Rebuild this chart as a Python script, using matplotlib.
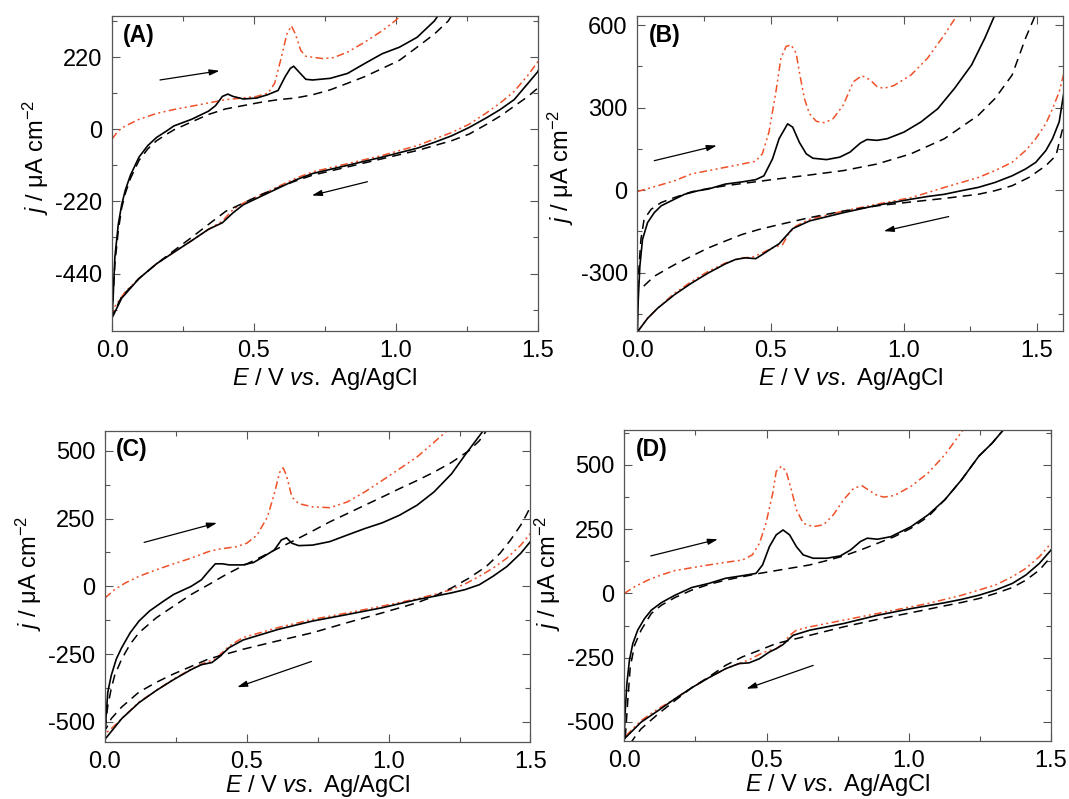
import matplotlib
matplotlib.use("Agg")
import matplotlib.pyplot as plt
from matplotlib.ticker import MultipleLocator

plt.rcParams["font.family"] = ["Liberation Sans", "DejaVu Sans"]
plt.rcParams["mathtext.fontset"] = "custom"
plt.rcParams["mathtext.rm"] = "Liberation Sans"
plt.rcParams["mathtext.it"] = "Liberation Sans:italic"
plt.rcParams["axes.unicode_minus"] = False

RED = "#EF5129"
SPINE = "#555555"

# ---------------- Panel A ----------------
a_solid_fwd_E = [0, 0.004, 0.01, 0.022, 0.034, 0.047, 0.065, 0.095, 0.126, 0.157, 0.193, 0.218, 0.28, 0.34, 0.365,
                 0.389, 0.408, 0.426, 0.463, 0.51, 0.548, 0.585, 0.61, 0.628, 0.64, 0.658, 0.683, 0.707, 0.769, 0.83,
                 0.89, 0.952, 1.013, 1.075, 1.136, 1.2, 1.3]
a_solid_fwd_j = [-575, -510, -390, -290, -230, -185, -140, -85, -50, -25, -5, 10, 30, 55, 72,
                 100, 107, 100, 92, 95, 105, 118, 160, 185, 192, 175, 152, 150, 155, 170,
                 200, 230, 250, 280, 330, 410, 560]
a_solid_rev_E = [1.53, 1.5, 1.466, 1.417, 1.368, 1.32, 1.258, 1.197, 1.136, 1.075, 0.952, 0.83, 0.707, 0.646, 0.585,
                 0.524, 0.463, 0.426, 0.389, 0.34, 0.28, 0.218, 0.157, 0.095, 0.034, 0]
a_solid_rev_j = [230, 175, 140, 90, 60, 35, 5, -20, -40, -58, -85, -110, -135, -155, -180,
                 -205, -230, -255, -285, -305, -340, -375, -410, -455, -515, -575]
a_dash_fwd_E = [0, 0.01, 0.022, 0.034, 0.047, 0.065, 0.095, 0.126, 0.157, 0.193, 0.218, 0.28, 0.34, 0.401, 0.463,
                0.524, 0.585, 0.646, 0.707, 0.769, 0.83, 0.89, 0.952, 1.013, 1.075, 1.136, 1.185, 1.25, 1.35]
a_dash_fwd_j = [-570, -410, -310, -240, -195, -150, -95, -60, -35, -15, -2, 22, 45, 62, 72,
                82, 90, 95, 105, 120, 140, 160, 185, 210, 250, 290, 330, 420, 600]
a_dash_rev_E = [1.53, 1.5, 1.466, 1.417, 1.368, 1.32, 1.258, 1.197, 1.136, 1.075, 0.952, 0.83, 0.707, 0.646, 0.585,
                0.524, 0.463, 0.401, 0.34, 0.28, 0.218, 0.157, 0.095, 0.034, 0]
a_dash_rev_j = [160, 125, 100, 70, 40, 15, -15, -35, -50, -65, -90, -115, -140, -158, -178,
                -200, -225, -250, -290, -330, -370, -410, -455, -510, -570]
a_red_fwd_E = [0, 0.022, 0.047, 0.095, 0.157, 0.218, 0.28, 0.34, 0.40, 0.46, 0.51, 0.55, 0.573, 0.597, 0.616,
               0.632, 0.646, 0.665, 0.683, 0.744, 0.78, 0.83, 0.89, 0.952, 1.0, 1.1]
a_red_fwd_j = [-30, -5, 10, 30, 48, 60, 70, 80, 90, 95, 100, 110, 140, 220, 290,
               315, 290, 240, 222, 215, 218, 235, 265, 300, 332, 420]
a_red_rev_E = [1.53, 1.5, 1.466, 1.417, 1.368, 1.32, 1.258, 1.197, 1.136, 1.075, 1.013, 0.952, 0.83, 0.707, 0.646,
               0.585, 0.524, 0.463, 0.426, 0.389, 0.34, 0.28, 0.218, 0.157, 0.095, 0.047, 0.01, 0]
a_red_rev_j = [250, 205, 165, 115, 80, 50, 15, -10, -30, -50, -65, -80, -105, -130, -150,
               -175, -200, -225, -245, -280, -305, -340, -375, -410, -455, -495, -540, -565]

# ---------------- Panel B ----------------
b_solid_fwd_E = [0, 0.003, 0.009, 0.019, 0.038, 0.063, 0.089, 0.139, 0.177, 0.228, 0.266, 0.33, 0.393, 0.444, 0.475,
                 0.507, 0.532, 0.564, 0.583, 0.608, 0.634, 0.659, 0.71, 0.76, 0.798, 0.837, 0.862, 0.9, 0.938, 1.001,
                 1.065, 1.128, 1.191, 1.255, 1.305, 1.343, 1.4, 1.5]
b_solid_fwd_j = [-515, -399, -277, -179, -118, -82, -57, -33, -15, -2, 4, 22, 30, 38, 52,
                 113, 187, 241, 229, 174, 132, 116, 111, 120, 138, 171, 184, 181, 187, 211,
                 248, 296, 370, 455, 553, 638, 780, 1050]
b_solid_rev_E = [1.62, 1.6, 1.584, 1.559, 1.534, 1.496, 1.458, 1.407, 1.343, 1.28, 1.217, 1.153, 1.09, 1.027, 0.9,
                 0.773, 0.646, 0.583, 0.558, 0.532, 0.507, 0.469, 0.444, 0.406, 0.368, 0.33, 0.266, 0.203, 0.139,
                 0.076, 0.038, 0]
b_solid_rev_j = [450, 345, 248, 187, 144, 101, 77, 52, 28, 10, -2, -15, -23, -33, -55,
                 -82, -112, -140, -167, -195, -210, -234, -249, -246, -252, -268, -301, -338, -380,
                 -429, -466, -515]
b_dash_fwd_E = [0, 0.006, 0.013, 0.025, 0.051, 0.089, 0.139, 0.203, 0.266, 0.33, 0.393, 0.52, 0.646, 0.773, 0.9,
                1.027, 1.153, 1.28, 1.343, 1.407, 1.458, 1.49, 1.6]
b_dash_fwd_j = [-362, -277, -179, -106, -70, -45, -27, -6, 6, 16, 24, 40, 55, 71, 95,
                132, 187, 272, 333, 418, 553, 626, 950]
b_dash_rev_E = [1.62, 1.6, 1.572, 1.534, 1.47, 1.407, 1.343, 1.28, 1.153, 1.027, 0.9, 0.773, 0.646, 0.52, 0.456,
                0.393, 0.33, 0.266, 0.203, 0.139, 0.063, 0.009]
b_dash_rev_j = [330, 235, 126, 89, 46, 16, -2, -15, -30, -43, -57, -76, -100, -128, -143,
                -161, -185, -210, -240, -271, -313, -362]
b_red_fwd_E = [0, 0.076, 0.139, 0.203, 0.266, 0.33, 0.393, 0.444, 0.469, 0.494, 0.52, 0.539, 0.558, 0.577, 0.596,
               0.608, 0.627, 0.646, 0.672, 0.703, 0.735, 0.773, 0.811, 0.843, 0.875, 0.9, 0.925, 0.963, 1.027, 1.09,
               1.153, 1.198, 1.3]
b_red_fwd_j = [-5, 16, 34, 59, 71, 83, 95, 105, 132, 211, 357, 480, 522, 528, 498,
               430, 333, 278, 250, 245, 260, 309, 394, 416, 400, 376, 370, 380, 418, 480,
               565, 632, 800]
b_red_rev_E = [1.62, 1.6, 1.584, 1.559, 1.534, 1.496, 1.458, 1.407, 1.343, 1.28, 1.217, 1.153, 1.09, 1.027, 0.9,
               0.773, 0.646, 0.596, 0.57, 0.545, 0.507, 0.469, 0.431, 0.393, 0.33, 0.266, 0.203, 0.139, 0.076,
               0.038, 0]
b_red_rev_j = [500, 418, 357, 296, 242, 187, 144, 101, 71, 46, 28, 10, -9, -27, -51,
               -76, -106, -130, -155, -198, -210, -228, -244, -246, -265, -295, -332, -375, -429,
               -466, -515]

# ---------------- Panel C ----------------
c_solid_fwd_E = [0, 0.004, 0.01, 0.022, 0.04, 0.059, 0.089, 0.12, 0.157, 0.206, 0.242, 0.304, 0.34, 0.365, 0.389,
                 0.414, 0.438, 0.487, 0.524, 0.56, 0.597, 0.622, 0.64, 0.659, 0.683, 0.732, 0.793, 0.854, 0.916,
                 0.977, 1.038, 1.1, 1.16, 1.222, 1.27, 1.338, 1.4, 1.5]
c_solid_fwd_j = [-564, -476, -390, -329, -268, -226, -171, -128, -91, -55, -30, 0, 24, 55, 83,
                 83, 79, 79, 88, 110, 134, 171, 179, 159, 150, 152, 165, 189, 213,
                 234, 262, 299, 348, 415, 485, 580, 700, 950]
c_solid_rev_E = [1.52, 1.5, 1.466, 1.417, 1.368, 1.32, 1.27, 1.222, 1.16, 1.1, 0.977, 0.854, 0.732, 0.61, 0.487,
                 0.438, 0.401, 0.377, 0.34, 0.304, 0.242, 0.181, 0.12, 0.059, 0]
c_solid_rev_j = [200, 165, 122, 73, 37, 6, -12, -24, -37, -49, -79, -104, -128, -159, -198,
                 -226, -262, -281, -289, -307, -344, -384, -429, -488, -564]
c_dash_fwd_E = [0, 0.01, 0.022, 0.034, 0.059, 0.089, 0.12, 0.181, 0.242, 0.304, 0.365, 0.426, 0.487, 0.548, 0.61,
                0.671, 0.732, 0.793, 0.854, 0.916, 0.977, 1.038, 1.1, 1.16, 1.222, 1.283, 1.32, 1.343, 1.5]
c_dash_fwd_j = [-525, -440, -378, -329, -268, -213, -171, -116, -73, -30, 6, 43, 76, 107, 140,
                171, 204, 238, 268, 299, 329, 360, 390, 421, 457, 500, 537, 571, 900]
c_dash_rev_E = [1.52, 1.5, 1.485, 1.466, 1.43, 1.393, 1.344, 1.283, 1.222, 1.16, 1.099, 0.977, 0.854, 0.732, 0.61,
                0.487, 0.365, 0.242, 0.181, 0.12, 0.059, 0.022, 0.004]
c_dash_rev_j = [330, 293, 262, 226, 171, 122, 73, 30, -6, -37, -61, -98, -134, -171, -201,
                -232, -268, -323, -354, -390, -445, -488, -525]
c_red_fwd_E = [0, 0.034, 0.071, 0.12, 0.181, 0.242, 0.304, 0.365, 0.4, 0.463, 0.5, 0.536, 0.573, 0.597, 0.616,
               0.628, 0.64, 0.659, 0.683, 0.732, 0.793, 0.854, 0.916, 0.977, 1.038, 1.099, 1.16, 1.203, 1.3]
c_red_fwd_j = [-43, -12, 12, 37, 61, 83, 104, 128, 137, 146, 159, 189, 256, 342, 421,
               437, 409, 329, 305, 293, 290, 311, 348, 390, 433, 476, 531, 571, 700]
c_red_rev_E = [1.52, 1.5, 1.466, 1.417, 1.368, 1.32, 1.27, 1.222, 1.16, 1.1, 0.977, 0.854, 0.732, 0.61, 0.487,
               0.438, 0.389, 0.34, 0.304, 0.242, 0.181, 0.12, 0.059, 0.016, 0]
c_red_rev_j = [230, 195, 152, 104, 67, 37, 9, -12, -30, -46, -73, -98, -122, -152, -189,
               -220, -268, -287, -305, -342, -384, -427, -488, -531, -543]

# ---------------- Panel D ----------------
d_solid_fwd_E = [0, 0.002, 0.009, 0.018, 0.03, 0.047, 0.071, 0.095, 0.13, 0.178, 0.237, 0.297, 0.356, 0.415, 0.463,
                 0.486, 0.51, 0.534, 0.558, 0.581, 0.605, 0.629, 0.664, 0.712, 0.759, 0.795, 0.83, 0.854, 0.89,
                 0.937, 1.008, 1.068, 1.127, 1.186, 1.246, 1.293, 1.335, 1.4, 1.5]
d_solid_fwd_j = [-566, -480, -352, -260, -195, -143, -98, -65, -36, -7, 23, 39, 59, 69, 78,
                 111, 182, 228, 247, 228, 182, 150, 137, 137, 146, 169, 202, 215, 211,
                 221, 260, 306, 365, 443, 534, 585, 640, 760, 1000]
d_solid_rev_E = [1.52, 1.5, 1.459, 1.412, 1.364, 1.305, 1.246, 1.186, 1.127, 1.008, 0.89, 0.771, 0.652, 0.593, 0.558,
                 0.534, 0.51, 0.475, 0.439, 0.403, 0.356, 0.297, 0.237, 0.178, 0.119, 0.059, 0]
d_solid_rev_j = [200, 169, 117, 72, 39, 13, -7, -23, -36, -59, -85, -117, -143, -163, -199,
                 -215, -228, -254, -270, -273, -293, -328, -367, -410, -456, -501, -566]
d_dash_fwd_E = [0, 0.012, 0.021, 0.036, 0.059, 0.095, 0.13, 0.178, 0.237, 0.297, 0.356, 0.415, 0.475, 0.534, 0.593,
                0.652, 0.712, 0.771, 0.83, 0.89, 0.949, 1.008, 1.068, 1.127, 1.186, 1.246, 1.293, 1.335, 1.4, 1.5]
d_dash_fwd_j = [-620, -420, -286, -202, -143, -78, -46, -16, 13, 35, 52, 65, 78, 89, 100,
                111, 128, 146, 169, 195, 221, 254, 299, 365, 443, 534, 585, 640, 760, 1000]
d_dash_rev_E = [1.52, 1.5, 1.459, 1.412, 1.364, 1.305, 1.246, 1.186, 1.127, 1.008, 0.89, 0.771, 0.652, 0.534, 0.475,
                0.415, 0.356, 0.297, 0.237, 0.178, 0.119, 0.059, 0.036, 0]
d_dash_rev_j = [175, 143, 91, 52, 23, 0, -20, -35, -48, -75, -101, -130, -163, -195, -221,
                -247, -280, -325, -367, -417, -469, -527, -560, -620]
d_red_fwd_E = [0, 0.036, 0.083, 0.13, 0.178, 0.237, 0.297, 0.356, 0.415, 0.45, 0.475, 0.498, 0.522, 0.534, 0.552,
               0.569, 0.587, 0.605, 0.629, 0.664, 0.7, 0.735, 0.771, 0.807, 0.836, 0.866, 0.89, 0.913, 0.949, 1.008,
               1.068, 1.127, 1.192, 1.3]
d_red_fwd_j = [0, 26, 52, 72, 89, 100, 111, 121, 130, 150, 195, 273, 391, 475, 495,
               475, 404, 326, 273, 260, 267, 306, 365, 410, 419, 397, 381, 375, 381, 417,
               469, 540, 638, 800]
d_red_rev_E = [1.52, 1.495, 1.459, 1.412, 1.364, 1.305, 1.246, 1.186, 1.127, 1.068, 1.008, 0.89, 0.771, 0.652, 0.605,
               0.581, 0.558, 0.534, 0.51, 0.475, 0.439, 0.403, 0.356, 0.297, 0.237, 0.178, 0.119, 0.059, 0.012, 0]
d_red_rev_j = [215, 189, 143, 98, 65, 33, 13, -7, -23, -39, -52, -78, -104, -130, -143,
               -163, -195, -215, -221, -237, -258, -273, -293, -328, -367, -410, -449, -495, -547, -566]

panels = [
    dict(label="(A)", rect=[0.1048, 0.5857, 0.3982, 0.3943], xlim=(0, 1.5), ylim=(-615, 345), ymajor=220,
         ylab_y=0.55, xpad=2.5,
         solid=[(a_solid_fwd_E, a_solid_fwd_j), (a_solid_rev_E, a_solid_rev_j)],
         dash=[(a_dash_fwd_E, a_dash_fwd_j), (a_dash_rev_E, a_dash_rev_j)],
         red=[(a_red_fwd_E, a_red_fwd_j), (a_red_rev_E, a_red_rev_j)],
         arrows=[((0.169, 150), (0.379, 178)), ((0.90, -160), (0.704, -202))]),
    dict(label="(B)", rect=[0.5963, 0.5857, 0.3985, 0.3943], xlim=(0, 1.6), ylim=(-512, 633), ymajor=300,
         ylab_y=0.52, xpad=2.5,
         solid=[(b_solid_fwd_E, b_solid_fwd_j), (b_solid_rev_E, b_solid_rev_j)],
         dash=[(b_dash_fwd_E, b_dash_fwd_j), (b_dash_rev_E, b_dash_rev_j)],
         red=[(b_red_fwd_E, b_red_fwd_j), (b_red_rev_E, b_red_rev_j)],
         arrows=[((0.063, 107), (0.298, 162)), ((1.169, -96), (0.925, -149))]),
    dict(label="(C)", rect=[0.0982, 0.0717, 0.3980, 0.3893], xlim=(0, 1.5), ylim=(-573, 574), ymajor=250,
         ylab_y=0.54, xpad=0.5,
         solid=[(c_solid_fwd_E, c_solid_fwd_j), (c_solid_rev_E, c_solid_rev_j)],
         dash=[(c_dash_fwd_E, c_dash_fwd_j), (c_dash_rev_E, c_dash_rev_j)],
         red=[(c_red_fwd_E, c_red_fwd_j), (c_red_rev_E, c_red_rev_j)],
         arrows=[((0.138, 162), (0.395, 234)), ((0.728, -277), (0.466, -372))]),
    dict(label="(D)", rect=[0.5840, 0.0730, 0.3992, 0.3888], xlim=(0, 1.5), ylim=(-573, 636), ymajor=250,
         ylab_y=0.54, xpad=0.5,
         solid=[(d_solid_fwd_E, d_solid_fwd_j), (d_solid_rev_E, d_solid_rev_j)],
         dash=[(d_dash_fwd_E, d_dash_fwd_j), (d_dash_rev_E, d_dash_rev_j)],
         red=[(d_red_fwd_E, d_red_fwd_j), (d_red_rev_E, d_red_rev_j)],
         arrows=[((0.093, 146), (0.329, 211)), ((0.664, -280), (0.429, -371))]),
]

fig = plt.figure(figsize=(10.69, 7.99), dpi=100)

for p in panels:
    ax = fig.add_axes(p["rect"])
    for E, j in p["red"]:
        ax.plot(E, j, color=RED, lw=1.1, linestyle=(0, (5, 2.2, 1.3, 2.2, 1.3, 2.2)))
    for E, j in p["dash"]:
        ax.plot(E, j, color="black", lw=1.1, linestyle=(0, (6, 4)))
    for E, j in p["solid"]:
        ax.plot(E, j, color="black", lw=1.2)

    for start, end in p["arrows"]:
        ax.annotate("", xy=end, xytext=start,
                    arrowprops=dict(arrowstyle="-|>,head_length=0.6,head_width=0.18",
                                    color="black", lw=0.9, shrinkA=0, shrinkB=0))

    ax.set_xlim(*p["xlim"])
    ax.set_ylim(*p["ylim"])
    ax.xaxis.set_major_locator(MultipleLocator(0.5))
    ax.xaxis.set_minor_locator(MultipleLocator(0.25))
    ax.yaxis.set_major_locator(MultipleLocator(p["ymajor"]))
    ax.yaxis.set_minor_locator(MultipleLocator(p["ymajor"] / 2))
    ax.tick_params(which="both", direction="in", top=True, right=True, width=0.8,
                   color=SPINE, labelsize=17)
    ax.tick_params(which="major", length=5.5)
    ax.tick_params(which="minor", length=3.5)
    ax.tick_params(axis="x", which="major", pad=6.5)
    ax.tick_params(axis="y", which="major", pad=7)
    for s in ax.spines.values():
        s.set_linewidth(0.9)
        s.set_color(SPINE)

    ax.set_xlabel(r"$\mathit{E}$ / V $\mathit{vs.}$ Ag/AgCl", fontsize=17, labelpad=p["xpad"])
    ax.set_ylabel(r"$\mathit{j}$ / μA cm$^{\mathregular{-2}}$", fontsize=17, labelpad=3)
    ax.yaxis.label.set_y(p["ylab_y"])
    ax.text(0.026, 0.975, p["label"], transform=ax.transAxes, fontsize=16.5, fontweight="bold",
            ha="left", va="top")

fig.savefig("out.png", dpi=100)
